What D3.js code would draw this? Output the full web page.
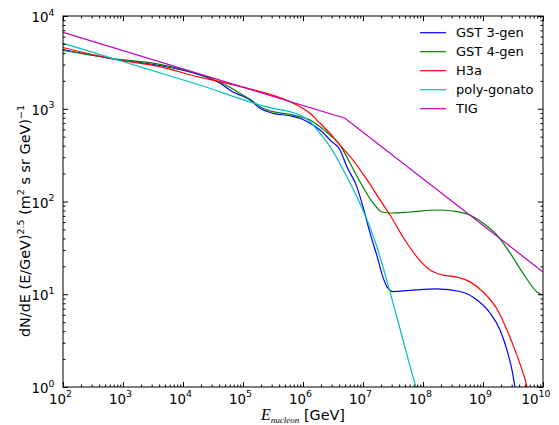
<!DOCTYPE html>
<html><head><meta charset="utf-8">
<script src="https://cdn.jsdelivr.net/npm/d3@7"></script>
<style>body{margin:0;background:#fff} svg{display:block}</style>
</head><body><svg id="c" width="559" height="425"></svg>
<script>
// ---- data ----
const seriesNames = ["GST 3-gen", "GST 4-gen", "H3a", "poly-gonato", "TIG"];
const seriesColors = ["#0000ff", "#008000", "#ff0000", "#00bfbf", "#bf00bf"];

const gst3Energy = [1e2, 6.8e2, 4.1e3, 1.9e4, 4.1e4, 6.8e4, 8.9e4, 1.31e5, 1.92e5, 3.16e5, 6.07e5, 8.91e5, 1.31e6, 1.92e6, 2.82e6, 4.14e6, 5.41e6, 7.94e6, 1e7, 1.31e7, 1.71e7, 2.15e7, 2.51e7, 3.16e7, 6.07e7, 1.71e8, 4.14e8, 7.94e8, 1.31e9, 1.92e9, 2.51e9, 3.04e9, 3.41e9, 4.14e9];
const gst3Flux   = [4355, 3440, 2925, 2312, 1895, 1514, 1406, 1242, 1011, 893, 841, 789, 697, 590, 460, 359, 235, 143, 87.2, 45.7, 25.9, 15.3, 12.0, 10.7, 11.0, 11.4, 10.7, 8.67, 6.28, 4.12, 2.50, 1.53, 1.0, 0.44];

const gst4Energy = [1e2, 6.8e2, 4.1e3, 1.9e4, 4.1e4, 6.8e4, 8.9e4, 1.31e5, 1.92e5, 3.16e5, 6.07e5, 8.91e5, 1.31e6, 1.92e6, 2.82e6, 4.14e6, 6.07e6, 1e7, 1.47e7, 2.07e7, 2.82e7, 6.07e7, 1.71e8, 3.16e8, 6.07e8, 1e9, 1.71e9, 2.82e9, 4.64e9, 7.94e9, 1e10];
const gst4Flux   = [4246, 3483, 3015, 2340, 1930, 1633, 1468, 1264, 1052, 930, 871, 821, 757, 640, 521, 406, 260, 143, 96.4, 77.1, 75.2, 77.1, 81.0, 79.0, 71.6, 58.6, 43.5, 27.9, 16.9, 10.6, 9.8];

const h3aEnergy = [1e2, 6.8e2, 4.1e3, 1.9e4, 4.1e4, 8.9e4, 6.07e5, 8.91e5, 1.31e6, 1.92e6, 2.82e6, 4.14e6, 6.81e6, 1.17e7, 1.92e7, 2.82e7, 4.64e7, 7.94e7, 1.31e8, 2.15e8, 3.69e8, 6.07e8, 1e9, 1.71e9, 2.51e9, 3.41e9, 4.47e9, 5.41e9, 6.31e9];
const h3aFlux   = [4575, 3440, 2840, 2184, 1960, 1740, 1191, 1052, 893, 697, 543, 406, 280, 171, 104, 71.5, 41.4, 25.2, 18.3, 16.1, 15.3, 13.6, 10.6, 6.93, 4.12, 2.50, 1.53, 1.0, 0.5];

const polyEnergy = [1e2, 1.9e4, 3.16e5, 6.07e5, 8.91e5, 1.31e6, 1.92e6, 2.82e6, 5.41e6, 7.94e6, 1.17e7, 1.71e7, 2.15e7, 2.82e7, 4.14e7, 7.64e7, 8.91e7];
const polyFlux   = [5080, 1803, 1011, 930, 857, 725, 543, 390, 184, 112, 63.2, 32.3, 19.7, 10.6, 4.22, 1.0, 0.72];

const tigEnergy = [1e2, 5.01e6, 1e10];
const tigFlux   = [6670, 789, 17.4];

const xTickExps = [2, 3, 4, 5, 6, 7, 8, 9, 10];
const yTickExps = [0, 1, 2, 3, 4];

const seriesEnergy = [gst3Energy, gst4Energy, h3aEnergy, polyEnergy, tigEnergy];
const seriesFlux = [gst3Flux, gst4Flux, h3aFlux, polyFlux, tigFlux];

// ---- layout ----
const L = 63, R = 543, T = 16, B = 387;
const svg = d3.select("#c");
const x = d3.scaleLog().domain([1e2, 1e10]).range([L, R]);
const y = d3.scaleLog().domain([1, 1e4]).range([B, T]);

svg.append("defs").append("clipPath").attr("id", "clip")
  .append("rect").attr("x", L).attr("y", T).attr("width", R - L).attr("height", B - T);

const plot = svg.append("g").attr("clip-path", "url(#clip)");
seriesNames.forEach((name, i) => {
  const pts = seriesEnergy[i].map((e, j) => [e, seriesFlux[i][j]]);
  const line = d3.line()
    .x(d => x(d[0])).y(d => y(d[1]))
    .curve(i === 4 ? d3.curveLinear : d3.curveMonotoneX);
  plot.append("path").attr("d", line(pts))
    .attr("fill", "none").attr("stroke", seriesColors[i]).attr("stroke-width", 1.2);
});

// ---- ticks ----
const xMajor = xTickExps.map(e => Math.pow(10, e));
const yMajor = yTickExps.map(e => Math.pow(10, e));
const xMinor = [], yMinor = [];
for (let e = 2; e < 10; e++) for (let k = 2; k <= 9; k++) xMinor.push(k * Math.pow(10, e));
for (let e = 0; e < 4; e++) for (let k = 2; k <= 9; k++) yMinor.push(k * Math.pow(10, e));

function addAxis(axis, tx, ty) {
  const g = svg.append("g").attr("transform", `translate(${tx},${ty})`).call(axis);
  g.select(".domain").remove();
  g.selectAll("line").attr("stroke", "#000").attr("stroke-width", 1);
  g.selectAll("text").remove();
}
addAxis(d3.axisBottom(x).tickValues(xMajor).tickSize(-5), 0, B);
addAxis(d3.axisBottom(x).tickValues(xMinor).tickSize(-2.5), 0, B);
addAxis(d3.axisTop(x).tickValues(xMajor).tickSize(-5), 0, T);
addAxis(d3.axisTop(x).tickValues(xMinor).tickSize(-2.5), 0, T);
addAxis(d3.axisLeft(y).tickValues(yMajor).tickSize(-5), L, 0);
addAxis(d3.axisLeft(y).tickValues(yMinor).tickSize(-2.5), L, 0);
addAxis(d3.axisRight(y).tickValues(yMajor).tickSize(-5), R, 0);
addAxis(d3.axisRight(y).tickValues(yMinor).tickSize(-2.5), R, 0);

svg.append("rect").attr("x", L).attr("y", T).attr("width", R - L).attr("height", B - T)
  .attr("fill", "none").attr("stroke", "#000").attr("stroke-width", 1);

const font = "DejaVu Sans, sans-serif";
// x tick labels
xTickExps.forEach(e => {
  const t = svg.append("text").attr("x", x(Math.pow(10, e)) - (e >= 10 ? 7 : 2.5)).attr("y", 403.5)
    .attr("text-anchor", "middle").attr("font-family", font).attr("font-size", 13.4).attr("fill", "#000");
  t.append("tspan").text("10");
  t.append("tspan").attr("dy", -6.5).attr("font-size", 9.4).text(e);
});
// y tick labels
yTickExps.forEach(e => {
  const t = svg.append("text").attr("x", 54.5).attr("y", y(Math.pow(10, e)) + 6)
    .attr("text-anchor", "end").attr("font-family", font).attr("font-size", 13.4).attr("fill", "#000");
  t.append("tspan").text("10");
  t.append("tspan").attr("dy", -6.5).attr("font-size", 9.4).text(e);
});

// axis labels
const xl = svg.append("text").attr("x", 303).attr("y", 420).attr("text-anchor", "middle").attr("fill", "#000");
xl.append("tspan").attr("font-family", "Liberation Serif, serif").attr("font-style", "italic").attr("font-size", 16).text("E");
xl.append("tspan").attr("font-family", "Liberation Serif, serif").attr("font-style", "italic").attr("font-size", 9).attr("dy", 3).text("nucleon");
xl.append("tspan").attr("font-family", font).attr("font-size", 14.4).attr("dy", -3).text(" [GeV]");

const yl = svg.append("text").attr("transform", "translate(30,221) rotate(-90)")
  .attr("text-anchor", "middle").attr("font-family", font).attr("font-size", 14.4).attr("fill", "#000");
yl.append("tspan").text("dN/dE (E/GeV)");
yl.append("tspan").attr("dy", -6).attr("font-size", 9.5).text("2.5");
yl.append("tspan").attr("dy", 6).text(" (m");
yl.append("tspan").attr("dy", -6).attr("font-size", 9.5).text("2");
yl.append("tspan").attr("dy", 6).text(" s sr GeV)");
yl.append("tspan").attr("dy", -6).attr("font-size", 9.5).text("\u22121");

// legend
seriesNames.forEach((name, i) => {
  const ry = 32.7 + i * 19;
  svg.append("line").attr("x1", 420).attr("x2", 446).attr("y1", ry).attr("y2", ry)
    .attr("stroke", seriesColors[i]).attr("stroke-width", 1.2);
  svg.append("text").attr("x", 456).attr("y", ry + 4.6).attr("font-family", font)
    .attr("font-size", 13).attr("fill", "#000").text(name);
});
</script></body></html>
